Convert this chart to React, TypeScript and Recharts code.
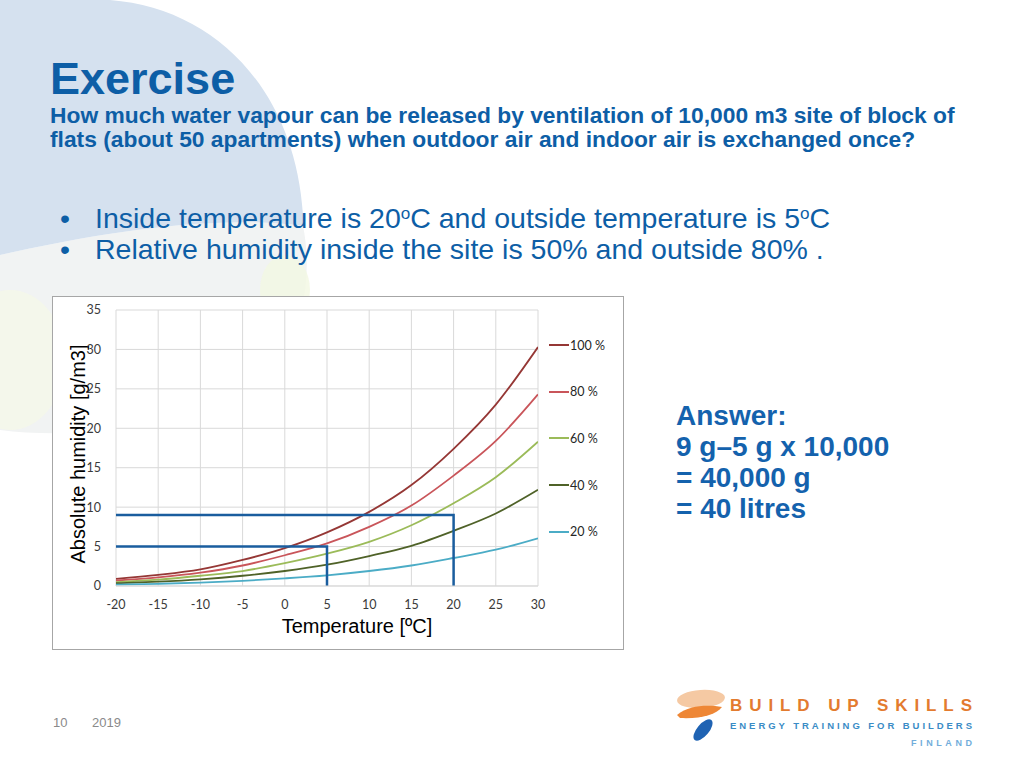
import React from "react";
import { LineChart, Line, XAxis, YAxis, CartesianGrid, Legend, Label } from "recharts";

// temperature [°C] on the x axis
const temperatures = [-20, -15, -10, -5, 0, 5, 10, 15, 20, 25, 30];

// absolute humidity [g/m3] at each relative humidity
const rh100 = [0.9, 1.4, 2.1, 3.3, 4.8, 6.8, 9.4, 12.8, 17.4, 23.0, 30.3];
const rh80 = [0.7, 1.1, 1.7, 2.6, 3.9, 5.4, 7.5, 10.2, 14.0, 18.4, 24.3];
const rh60 = [0.5, 0.8, 1.3, 1.9, 2.9, 4.1, 5.6, 7.7, 10.5, 13.8, 18.3];
const rh40 = [0.35, 0.55, 0.85, 1.3, 1.9, 2.7, 3.8, 5.1, 7.0, 9.2, 12.2];
const rh20 = [0.18, 0.28, 0.43, 0.65, 0.97, 1.36, 1.9, 2.6, 3.55, 4.6, 6.05];

const seriesLabels = ["100 %", "80 %", "60 %", "40 %", "20 %"];
const seriesKeys = ["h100", "h80", "h60", "h40", "h20"];
const seriesColors = ["#953735", "#c9555a", "#9bbb59", "#4f6228", "#4bacc6"];

// guide lines: inside 20 °C -> 9 g/m3, outside 5 °C -> 5 g/m3
const insideGuideX = [-20, 20, 20];
const insideGuideY = [9, 9, 0];
const outsideGuideX = [-20, 5, 5];
const outsideGuideY = [5, 5, 0];

const xTicks = [-20, -15, -10, -5, 0, 5, 10, 15, 20, 25, 30];
const yTicks = [0, 5, 10, 15, 20, 25, 30, 35];

const allSeries = [rh100, rh80, rh60, rh40, rh20];
const data = temperatures.map((t, i) => {
  const row: Record<string, number> = { t };
  seriesKeys.forEach((k, s) => {
    row[k] = allSeries[s][i];
  });
  return row;
});
const insideGuide = insideGuideX.map((t, i) => ({ t, v: insideGuideY[i] }));
const outsideGuide = outsideGuideX.map((t, i) => ({ t, v: outsideGuideY[i] }));

const blue = "#0d5ea6";
const tickStyle = { fontSize: 12.5, fill: "#3a3a3a", fontFamily: "Lato" };

const renderLegend = (props: any) => {
  const items = [...(props.payload || [])]
    .filter((p: any) => seriesLabels.includes(p.value))
    .sort((a: any, b: any) => seriesLabels.indexOf(a.value) - seriesLabels.indexOf(b.value));
  return (
    <div>
      {items.map((it: any) => (
        <div key={it.value} style={{ height: 46.6, display: "flex", alignItems: "center" }}>
          <span style={{ width: 20, height: 2, background: it.color, display: "inline-block" }} />
          <span style={{ marginLeft: 1, fontFamily: "Lato", fontSize: 12.5, color: "#262626" }}>{it.value}</span>
        </div>
      ))}
    </div>
  );
};

const Background = () => (
  <svg width={1024} height={768} style={{ position: "absolute", left: 0, top: 0 }}>
    <path d="M0,255 C100,232 220,214 303,226 C312,270 305,320 282,360 C200,430 80,440 0,430 Z" fill="#f1f3f3" />
    <ellipse cx={10} cy={360} rx={55} ry={70} fill="#f5f8e8" opacity={0.8} />
    <ellipse cx={285} cy={290} rx={25} ry={35} fill="#f3f7e2" opacity={0.8} />
    <path d="M0,0 H110 C215,8 295,90 303,215 L303,226 C220,214 100,232 0,255 Z" fill="#d5e1ef" />
  </svg>
);

const Logo = () => (
  <svg width={320} height={70} style={{ position: "absolute", left: 670, top: 685 }}>
    <ellipse cx={31} cy={14} rx={24} ry={9} fill="#f5c9a3" transform="rotate(-4 31 14)" />
    <path d="M7,30 C20,19 40,20 52,22 C46,30 30,34 10,33 Z" fill="#ee8736" />
    <ellipse cx={33} cy={45} rx={6} ry={13} fill="#1f63b3" transform="rotate(40 33 45)" />
    <text x={60} y={26} textLength={242} lengthAdjust="spacing" fontFamily="Liberation Sans" fontWeight="bold" fontSize={17} fill="#e37b2f">
      BUILD UP SKILLS
    </text>
    <text x={60} y={44} textLength={242} lengthAdjust="spacing" fontFamily="Liberation Sans" fontWeight="bold" fontSize={9.5} fill="#3a8cc6">
      ENERGY TRAINING FOR BUILDERS
    </text>
    <text x={241} y={61} textLength={61} lengthAdjust="spacing" fontFamily="Liberation Sans" fontWeight="bold" fontSize={9} fill="#72addb">
      FINLAND
    </text>
  </svg>
);

const sup = { fontSize: "0.6em", verticalAlign: "0.55em" } as const;

const App = () => {
  return (
    <div
      style={{
        position: "absolute",
        left: 0,
        top: 0,
        width: 1024,
        height: 768,
        background: "#fff",
        overflow: "hidden",
        fontFamily: "Liberation Sans",
      }}
    >
      <Background />
      <div style={{ position: "absolute", left: 50, top: 57, fontSize: 45, lineHeight: "44px", fontWeight: "bold", color: blue }}>
        Exercise
      </div>
      <div style={{ position: "absolute", left: 50, top: 103, fontSize: 22.8, lineHeight: "24px", fontWeight: "bold", color: blue, width: 970 }}>
        How much water vapour can be released by ventilation of 10,000 m3 site of block of
        <br />
        flats (about 50 apartments) when outdoor air and indoor air is exchanged once?
      </div>
      <div style={{ position: "absolute", left: 60, top: 198, fontSize: 28.5, lineHeight: "31px", color: blue, whiteSpace: "nowrap" }}>
        <div>
          <span style={{ display: "inline-block", width: 35 }}>•</span>
          Inside temperature is 20<sup style={sup}>o</sup>C and outside temperature is 5<sup style={sup}>o</sup>C
        </div>
        <div>
          <span style={{ display: "inline-block", width: 35 }}>•</span>
          Relative humidity inside the site is 50% and outside 80% .
        </div>
      </div>
      <div style={{ position: "absolute", left: 676, top: 400, fontSize: 28, lineHeight: "31px", fontWeight: "bold", color: "#1462ad" }}>
        <div>Answer:</div>
        <div>9 g–5 g x 10,000</div>
        <div>= 40,000 g</div>
        <div>= 40 litres</div>
      </div>
      <div style={{ position: "absolute", left: 53, top: 715, fontSize: 13, color: "#8a8a8a" }}>10</div>
      <div style={{ position: "absolute", left: 92, top: 715, fontSize: 13, color: "#8a8a8a" }}>2019</div>
      <Logo />

      <div
        style={{
          position: "absolute",
          left: 52,
          top: 296,
          width: 572,
          height: 354,
          boxSizing: "border-box",
          border: "1px solid #a6a6a6",
          background: "#fff",
        }}
      >
        <LineChart width={570} height={352} data={data} margin={{ top: 13, right: 85, left: 10, bottom: 8 }}>
          <CartesianGrid stroke="#d9d9d9" />
          <XAxis
            dataKey="t"
            type="number"
            domain={[-20, 30]}
            ticks={xTicks}
            allowDataOverflow
            tick={tickStyle}
            tickLine={false}
            axisLine={{ stroke: "#d9d9d9" }}
            tickMargin={8}
            height={55}
          >
            <Label
              content={(p: any) => {
                const vb = p.viewBox || { x: 63, y: 289, width: 422, height: 55 };
                return (
                  <text x={vb.x + vb.width / 2 + 30} y={vb.y + 47} textAnchor="middle" fontSize={20} fontFamily="Liberation Sans" fill="#000">
                    Temperature [ºC]
                  </text>
                );
              }}
            />
          </XAxis>
          <YAxis
            type="number"
            domain={[0, 35]}
            ticks={yTicks}
            tick={tickStyle}
            tickLine={false}
            axisLine={false}
            tickSize={6}
            tickMargin={9}
            width={53}
          >
            <Label
              content={(p: any) => {
                const vb = p.viewBox || { x: 10, y: 13, width: 53, height: 276 };
                const cx = vb.x + 15;
                const cy = vb.y + vb.height / 2 + 6;
                return (
                  <text
                    x={cx}
                    y={cy}
                    transform={`rotate(-90 ${cx} ${cy})`}
                    textAnchor="middle"
                    dominantBaseline="central"
                    fontSize={20}
                    fontFamily="Liberation Sans"
                    fill="#000"
                  >
                    Absolute humidity [g/m3]
                  </text>
                );
              }}
            />
          </YAxis>
          <Legend
            layout="vertical"
            align="center"
            verticalAlign="middle"
            content={renderLegend}
            wrapperStyle={{ left: 496, top: 25, width: 74 }}
          />
          {seriesKeys.map((k, i) => (
            <Line
              key={k}
              dataKey={k}
              name={seriesLabels[i]}
              type="monotone"
              stroke={seriesColors[i]}
              strokeWidth={1.8}
              dot={false}
              isAnimationActive={false}
            />
          ))}
          <Line
            data={insideGuide}
            dataKey="v"
            name="inside"
            type="linear"
            stroke="#1a5d9e"
            strokeWidth={2.5}
            dot={false}
            legendType="none"
            isAnimationActive={false}
          />
          <Line
            data={outsideGuide}
            dataKey="v"
            name="outside"
            type="linear"
            stroke="#1a5d9e"
            strokeWidth={2.5}
            dot={false}
            legendType="none"
            isAnimationActive={false}
          />
        </LineChart>
      </div>
    </div>
  );
};

export default App;
